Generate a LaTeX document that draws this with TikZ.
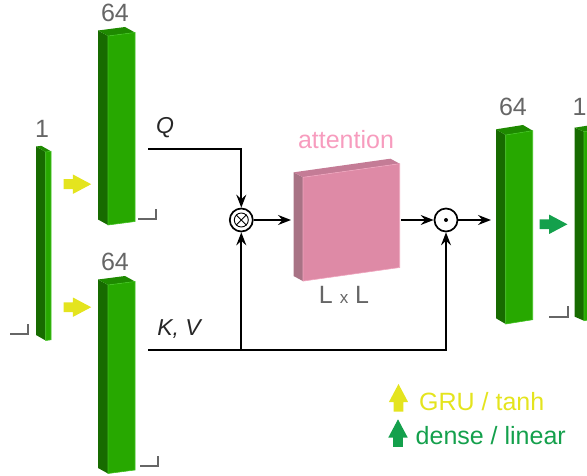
\documentclass[tikz,border=0pt]{standalone}
\usepackage{fontspec}
\setmainfont{Liberation Sans}
\usetikzlibrary{arrows.meta,positioning,shapes.arrows}

\definecolor{barfront}{HTML}{27A800}
\definecolor{barside}{HTML}{176B00}
\definecolor{bartop}{HTML}{1E8A00}
\definecolor{baredge}{HTML}{3FC21F}
\definecolor{attnfront}{HTML}{DE8AA6}
\definecolor{attnside}{HTML}{A87385}
\definecolor{attntop}{HTML}{C47C96}
\definecolor{attnedge}{HTML}{EFA5BE}
\definecolor{attntext}{HTML}{F79CBE}
\definecolor{grucolor}{HTML}{E4E41E}
\definecolor{densecolor}{HTML}{14A04C}
\definecolor{dimcolor}{HTML}{666666}

\newcommand{\cuboid}[8]{
    \fill[#1side] (#2,#3) -- ++(#4,#5) -- ++(0,#8) -- ++(-#4,-#5) -- cycle;
    \fill[#1top] (#2,#3) -- ++(#4,#5) -- ++(#6,-#7) -- ++(-#4,-#5) -- cycle;
    \filldraw[fill=#1front, draw=#1edge, line width=.6pt] (#2,#3) ++(#4,#5) -- ++(#6,-#7) -- ++(0,#8) -- ++(-#6,#7) -- cycle;
}

\begin{document}
\begin{tikzpicture}[
        x=1pt, y=-1pt,
        dimlabel/.style={text=dimcolor, font=\fontsize{25}{25}\selectfont, inner sep=0pt},
        varlabel/.style={text=black!85, font=\fontsize{23}{23}\selectfont\itshape, inner sep=0pt},
        legendlabel/.style={font=\fontsize{25}{25}\selectfont, inner sep=0pt, anchor=west},
        opcircle/.style={draw, circle, line width=1.7pt, minimum size=23pt, inner sep=0pt},
        arrow/.style={-{Stealth[length=13pt, width=10pt, inset=4.5pt]}, line width=1.7pt},
        line/.style={line width=1.7pt},
        corner/.style={draw=dimcolor, line width=2pt},
        blockarrow/.style={single arrow, draw=none, inner sep=0pt, text width=0pt, text height=4.75pt, text depth=4.75pt,
            minimum height=27.7pt, single arrow head extend=4.75pt, single arrow tip angle=56, single arrow head indent=0pt}
    ]
        \clip[use as bounding box] (0,0) rectangle (587,476);

        % layers
        \cuboid{bar}{36}{146.5}{9.7}{5.5}{5.3}{.7}{188.5}
        \cuboid{bar}{98}{30.5}{10}{5.5}{27}{3.5}{189}
        \cuboid{bar}{98}{279.5}{10}{5.5}{27}{3.5}{188.5}
        \cuboid{attn}{293.7}{172.3}{9.3}{5}{96.7}{13.6}{103.8}
        \cuboid{bar}{496}{129.3}{9.7}{5.7}{27}{4.3}{189}
        \cuboid{bar}{574.7}{127.7}{9.3}{4}{27}{4.3}{189}

        \node[dimlabel] (inputdim) at (42,129) {1};
        \node[dimlabel] (querydim) at (115,13) {64};
        \node[dimlabel] (keydim) at (115,262) {64};
        \node[dimlabel] (contextdim) at (513,107) {64};
        \node[dimlabel] (outputdim) at (579.5,107) {1};
        \node[text=attntext, font=\fontsize{25}{25}\selectfont, inner sep=0pt] (attnlabel) at (346,140) {attention};
        \node[dimlabel] (attndim) at (344,295) {L {\fontsize{17}{17}\selectfont x} L};

        \node[varlabel] (qlabel) at (165,128) {Q};
        \node[varlabel] (kvlabel) at (179,329) {K, V};

        % corner marks
        \draw[corner] (10,334.3) -- (27.7,334.3) -- (27.7,324);
        \draw[corner] (138,219) -- (155.7,219) -- (155.7,209);
        \draw[corner] (140.3,466) -- (158.3,466) -- (158.3,456);
        \draw[corner] (549.3,316.7) -- (567.7,316.7) -- (567.7,306);

        % block arrows
        \node[blockarrow, fill=grucolor] (gruq) at (72.7,184.2) {};
        \node[blockarrow, fill=grucolor] (gruk) at (72.7,307.2) {};
        \node[blockarrow, fill=densecolor] (denseout) at (548.9,224.3) {};

        % operations
        \node[opcircle] (otimes) at (241.3,220) {};
        \node[draw, circle, line width=.9pt, minimum size=14pt, inner sep=0pt] (otimesinner) at (otimes) {};
        \draw[line width=.9pt] (otimesinner.45) -- (otimesinner.225);
        \draw[line width=.9pt] (otimesinner.135) -- (otimesinner.315);
        \node[opcircle] (odot) at (446,220) {};
        \fill (odot) circle (2);

        \coordinate (qstart) at (148,149.3);
        \coordinate (kvstart) at (148,349.7);
        \coordinate (attnin) at (291,220);
        \coordinate (attnout) at (401,220);
        \coordinate (barin) at (491,220);

        \draw[arrow] (qstart) -| (otimes.north);
        \draw[line] (kvstart) -- (otimes |- kvstart);
        \draw[arrow] (otimes |- kvstart) -- (otimes.south);
        \draw[arrow] (otimes |- kvstart) -| (odot.south);
        \draw[arrow] (otimes.east) -- (attnin);
        \draw[arrow] (attnout) -- (odot.west);
        \draw[arrow] (odot.east) -- (barin);

        % legend
        \node[blockarrow, fill=grucolor, rotate=90] (grukey) at (398.5,402.5) {};
        \node[legendlabel, text=grucolor] (grutext) at (419,401.5) {GRU / tanh};
        \node[blockarrow, fill=densecolor, rotate=90] (densekey) at (398,437.8) {};
        \node[legendlabel, text=densecolor] (densetext) at (415.5,435.5) {dense / linear};
    \end{tikzpicture}
\end{document}
